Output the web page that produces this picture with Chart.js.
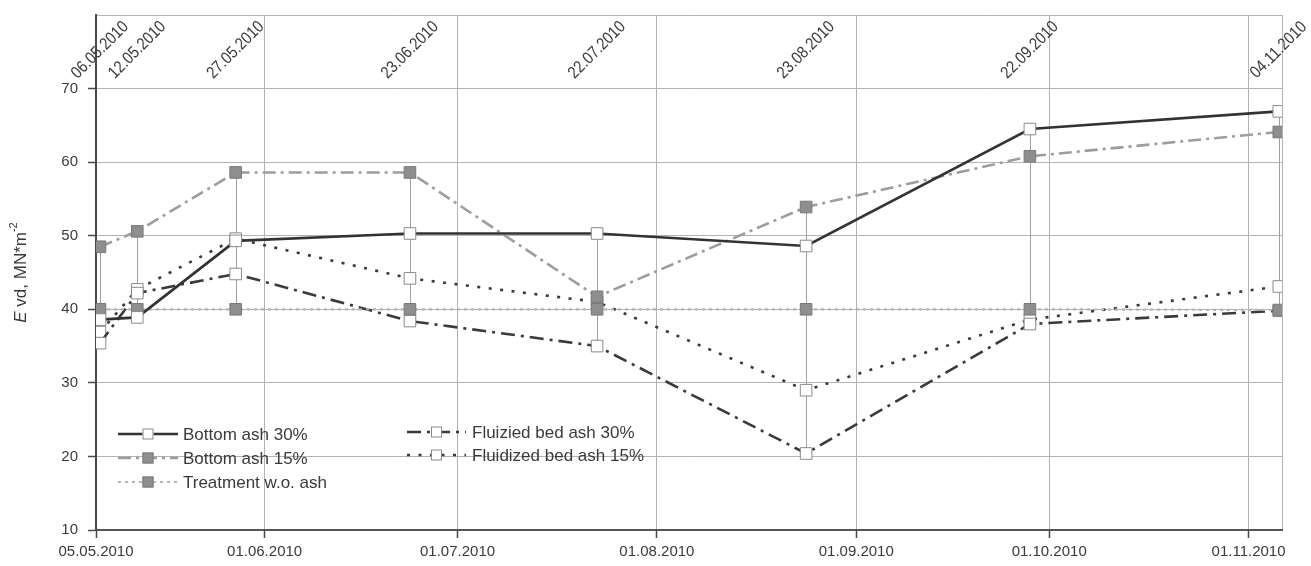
<!DOCTYPE html>
<html><head><meta charset="utf-8">
<script src="https://cdn.jsdelivr.net/npm/chart.js@4.4.0/dist/chart.umd.min.js"></script>
<style>html,body{margin:0;padding:0;background:#fff;overflow:hidden}#wrap{width:1311px;height:566px}</style>
</head><body><div id="wrap"><canvas id="c" width="1311" height="566"></canvas></div>
<script>
// ---- data ----
const sampleLabels = ['06.05.2010','12.05.2010','27.05.2010','23.06.2010','22.07.2010','23.08.2010','22.09.2010','04.11.2010'];
// sample positions on the time axis, in days after 05.05.2010
const sampleDays = [1.4, 7.2, 22.5, 49.6, 78.7, 111.2, 146.0, 184.7];
const bottomAsh30    = [38.6, 38.9, 49.3, 50.3, 50.3, 48.6, 64.5, 66.9];
const bottomAsh15    = [48.5, 50.6, 58.6, 58.6, 41.7, 53.9, 60.8, 64.1];
const treatmentNoAsh = [40.0, 40.0, 40.0, 40.0, 40.0, 40.0, 40.0, 39.9];
const fluidBed30     = [35.4, 42.2, 44.8, 38.4, 35.0, 20.4, 38.0, 39.8];
const fluidBed15     = [36.9, 42.7, 49.6, 44.2, 41.0, 29.0, 38.6, 43.1];
const seriesNames = ['Bottom ash 30%','Bottom ash 15%','Treatment w.o. ash','Fluizied bed ash 30%','Fluidized bed ash 15%'];
const xTickDays   = [0.78, 27, 57, 88, 119, 149, 180, 185.2];
const xTickLabels = ['05.05.2010','01.06.2010','01.07.2010','01.08.2010','01.09.2010','01.10.2010','01.11.2010',''];
const yTickValues = [10, 20, 30, 40, 50, 60, 70, 80];
const yTickLabels = ['10','20','30','40','50','60','70',''];

const FONT = "'Liberation Sans', Arial, sans-serif";
const TXT = '#3a3a3a';
const WHITE_PT = {bg:'#ffffff', bd:'#8a8a8a'};
const GREY_PT  = {bg:'#8e8e8e', bd:'#7a7a7a'};

const styles = [
  {color:'#333333', width:2.6, dash:[],            pt:WHITE_PT},
  {color:'#9d9d9d', width:2.6, dash:[13,5,3,5],    pt:GREY_PT},
  {color:'#b4b4b4', width:2.2, dash:[3,4],         pt:GREY_PT},
  {color:'#3a3a3a', width:2.6, dash:[14,6,3,6],    pt:WHITE_PT},
  {color:'#3a3a3a', width:2.6, dash:[3,8.5],       pt:WHITE_PT}
];
const seriesValues = [bottomAsh30, bottomAsh15, treatmentNoAsh, fluidBed30, fluidBed15];

const datasets = seriesValues.map((vals, k) => ({
  label: seriesNames[k],
  data: vals.map((v, i) => ({x: sampleDays[i], y: v})),
  borderColor: styles[k].color,
  borderWidth: styles[k].width,
  borderDash: styles[k].dash,
  pointStyle: 'rect',
  pointRadius: 8.2,
  pointBorderWidth: 1,
  pointBackgroundColor: styles[k].pt.bg,
  pointBorderColor: styles[k].pt.bd,
  tension: 0,
  fill: false
}));

const hiLow = {
  id: 'hiLow',
  beforeDatasetsDraw(chart) {
    const {ctx, scales: {x, y}} = chart;
    ctx.save();
    ctx.strokeStyle = '#a0a0a0'; ctx.lineWidth = 1; ctx.setLineDash([]);
    sampleDays.forEach((d, i) => {
      const vals = seriesValues.map(s => s[i]);
      const px = Math.round(x.getPixelForValue(d)) + 0.5;
      ctx.beginPath();
      ctx.moveTo(px, y.getPixelForValue(Math.max(...vals)));
      ctx.lineTo(px, y.getPixelForValue(Math.min(...vals)));
      ctx.stroke();
    });
    ctx.restore();
  }
};

const extras = {
  id: 'extras',
  afterDatasetsDraw(chart) {
    const {ctx, scales: {x, y}, chartArea} = chart;
    ctx.save();
    // sampling dates along the top, rotated
    ctx.fillStyle = TXT;
    ctx.font = '17px ' + FONT;
    ctx.textAlign = 'center'; ctx.textBaseline = 'middle';
    sampleDays.forEach((d, i) => {
      ctx.save();
      ctx.translate(x.getPixelForValue(d), 50);
      ctx.rotate(-Math.PI / 4);
      ctx.scale(0.86, 1);
      ctx.fillText(sampleLabels[i], 0, 0);
      ctx.restore();
    });
    // y axis title
    ctx.save();
    ctx.translate(21, (chartArea.top + chartArea.bottom) / 2);
    ctx.rotate(-Math.PI / 2);
    const parts = [
      {t:'E', f:'italic 17px ' + FONT, dy:0},
      {t:' vd, MN*m', f:'17px ' + FONT, dy:0},
      {t:'-2', f:'11px ' + FONT, dy:-7}
    ];
    let total = 0;
    parts.forEach(p => { ctx.font = p.f; total += ctx.measureText(p.t).width; });
    let cx = -total / 2;
    ctx.textAlign = 'left'; ctx.textBaseline = 'middle';
    parts.forEach(p => { ctx.font = p.f; ctx.fillText(p.t, cx, p.dy); cx += ctx.measureText(p.t).width; });
    ctx.restore();
    // legend
    const items = [
      {k:0, x0:118, x1:178, tx:183, y:434},
      {k:1, x0:118, x1:178, tx:183, y:458},
      {k:2, x0:118, x1:178, tx:183, y:482},
      {k:3, x0:407, x1:466, tx:472, y:432},
      {k:4, x0:407, x1:466, tx:472, y:455}
    ];
    items.forEach(it => {
      const s = styles[it.k];
      ctx.save();
      ctx.strokeStyle = s.color; ctx.lineWidth = s.width; ctx.setLineDash(s.dash);
      ctx.beginPath(); ctx.moveTo(it.x0, it.y); ctx.lineTo(it.x1, it.y); ctx.stroke();
      ctx.setLineDash([]);
      const mx = (it.x0 + it.x1) / 2, hs = 5.5;
      ctx.fillStyle = s.pt.bg; ctx.strokeStyle = s.pt.bd; ctx.lineWidth = 1;
      ctx.fillRect(mx - hs, it.y - hs, 2 * hs, 2 * hs);
      ctx.strokeRect(mx - hs + 0.5, it.y - hs + 0.5, 2 * hs - 1, 2 * hs - 1);
      ctx.fillStyle = TXT; ctx.font = '17px ' + FONT;
      ctx.textAlign = 'left'; ctx.textBaseline = 'middle';
      ctx.fillText(seriesNames[it.k], it.tx, it.y + 1);
      ctx.restore();
    });
    ctx.restore();
  }
};

new Chart(document.getElementById('c'), {
  type: 'line',
  data: {datasets},
  options: {
    responsive: false,
    animation: false,
    devicePixelRatio: 1,
    layout: {autoPadding: false, padding: {top: 15, right: 29, left: 0, bottom: 0}},
    plugins: {legend: {display: false}, tooltip: {enabled: false}},
    scales: {
      x: {
        type: 'linear',
        min: xTickDays[0], max: xTickDays[xTickDays.length - 1],
        afterBuildTicks: (s) => { s.ticks = xTickDays.map(v => ({value: v})); },
        afterFit: (s) => { s.height = 36; s.paddingLeft = 0; s.paddingRight = 0; },
        ticks: {
          autoSkip: false, maxRotation: 0, padding: 5,
          color: TXT, font: {family: FONT, size: 15},
          callback: (v, i) => xTickLabels[i]
        },
        grid: {
          color: (c) => (c.index === 0 ? 'rgba(0,0,0,0)' : '#b3b3b3'),
          tickColor: (c) => (c.index === xTickDays.length - 1 ? 'rgba(0,0,0,0)' : '#4a4a4a'),
          tickLength: 8, lineWidth: 1, tickWidth: 1.5
        },
        border: {display: true, color: '#555555', width: 2}
      },
      y: {
        type: 'linear',
        min: yTickValues[0], max: yTickValues[yTickValues.length - 1],
        afterBuildTicks: (s) => { s.ticks = yTickValues.map(v => ({value: v})); },
        afterFit: (s) => { s.width = 96; s.paddingTop = 0; s.paddingBottom = 0; },
        ticks: {
          padding: 10, color: TXT, font: {family: FONT, size: 15},
          callback: (v, i) => yTickLabels[i]
        },
        grid: {
          color: '#b3b3b3',
          tickColor: (c) => (c.index === yTickValues.length - 1 ? 'rgba(0,0,0,0)' : '#4a4a4a'),
          tickLength: 8, lineWidth: 1, tickWidth: 1.5
        },
        border: {display: true, color: '#4a4a4a', width: 2}
      }
    }
  },
  plugins: [hiLow, extras]
});
</script>
</body></html>
